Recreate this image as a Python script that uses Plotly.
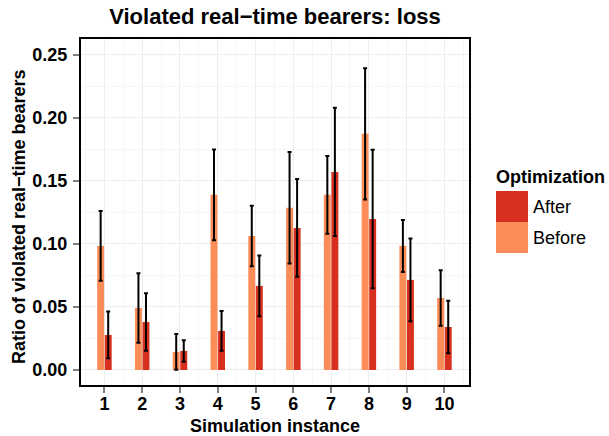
import plotly.graph_objects as go

instances = [1, 2, 3, 4, 5, 6, 7, 8, 9, 10]
tick_labels = ["1", "2", "3", "4", "5", "6", "7", "8", "9", "10"]
before_vals = [0.0984, 0.0492, 0.0143, 0.1389, 0.1063, 0.1286, 0.1389, 0.1873, 0.0984, 0.0571]
before_err = [0.0276, 0.0275, 0.0142, 0.0360, 0.0240, 0.0442, 0.0309, 0.0521, 0.0206, 0.0220]
after_vals = [0.0278, 0.0381, 0.0151, 0.0310, 0.0667, 0.1127, 0.1571, 0.1198, 0.0714, 0.0341]
after_err = [0.0185, 0.0228, 0.0085, 0.0157, 0.0241, 0.0387, 0.0508, 0.0549, 0.0328, 0.0208]
y_ticks = [0, 0.05, 0.1, 0.15, 0.2, 0.25]
y_tick_labels = ["0.00", "0.05", "0.10", "0.15", "0.20", "0.25"]

c_before = "#FC8D59"
c_after = "#D7301F"
font = "Liberation Sans, Arial, sans-serif"

fig = go.Figure()
fig.add_trace(go.Bar(
    x=instances, y=before_vals, name="Before", marker=dict(color=c_before, line=dict(width=0)),
    error_y=dict(type="data", array=before_err, color="black", thickness=2, width=2),
    showlegend=False,
))
fig.add_trace(go.Bar(
    x=instances, y=after_vals, name="After", marker=dict(color=c_after, line=dict(width=0)),
    error_y=dict(type="data", array=after_err, color="black", thickness=2, width=2),
    showlegend=False,
))

W, H = 609, 436
L, R, T, B = 81, 140, 39, 51
pw = W - L - R
ph = H - T - B

def px_x(p):
    return (p - L) / pw

def px_y(p):
    return 1 - (p - T) / ph

# legend (manual, ggplot style)
fig.add_annotation(x=px_x(494), y=px_y(177), xref="paper", yref="paper", text="<b>Optimization</b>",
                   showarrow=False, xanchor="left", yanchor="middle",
                   font=dict(family=font, size=18, color="black"))
for i, (lab, col) in enumerate([("After", c_after), ("Before", c_before)]):
    y0 = 191 + i * 31
    fig.add_shape(type="rect", xref="paper", yref="paper",
                  x0=px_x(496), x1=px_x(528), y0=px_y(y0), y1=px_y(y0 + 31),
                  fillcolor=col, line=dict(width=0))
    fig.add_annotation(x=px_x(531), y=px_y(y0 + 16), xref="paper", yref="paper", text=lab,
                       showarrow=False, xanchor="left", yanchor="middle",
                       font=dict(family=font, size=18, color="black"))

# axis titles
fig.add_annotation(x=px_x(L + pw / 2), y=px_y(426), xref="paper", yref="paper",
                   text="<b>Simulation instance</b>", showarrow=False, xanchor="center", yanchor="middle",
                   font=dict(family=font, size=18, color="black"))
fig.add_annotation(x=px_x(19), y=px_y(T + ph / 2 + 5), xref="paper", yref="paper",
                   text="<b>Ratio of violated real\u2212time bearers</b>", showarrow=False, textangle=-90,
                   xanchor="center", yanchor="middle",
                   font=dict(family=font, size=18, color="black"))

fig.update_layout(
    width=W, height=H,
    margin=dict(l=L, r=R, t=T, b=B),
    paper_bgcolor="white", plot_bgcolor="white",
    barmode="group", bargap=0.6, bargroupgap=0.08,
    title=dict(text="<b>Violated real\u2212time bearers: loss</b>", x=(L + pw / 2) / W, xanchor="center",
               y=1 - 16 / H, yanchor="middle", font=dict(family=font, size=22, color="black")),
    font=dict(family=font, color="black"),
)
fig.update_xaxes(
    range=[0.38, 10.65], tickmode="array", tickvals=instances, ticktext=["<b>%s</b>" % t for t in tick_labels],
    tickfont=dict(family=font, size=18, color="black"),
    ticks="outside", ticklen=6, tickwidth=2, tickcolor="#7F7F7F", ticklabelstandoff=-5,
    showline=True, linecolor="black", linewidth=2, mirror=True,
    showgrid=True, gridcolor="#EEEEEE", gridwidth=1,
    minor=dict(dtick=1, tick0=0.5, showgrid=True, gridcolor="#F6F6F6", gridwidth=1, ticks=""),
    zeroline=False, automargin=False,
)
fig.update_yaxes(
    range=[-0.0119, 0.2625], tickmode="array", tickvals=y_ticks,
    ticktext=["<b>%s</b>" % t for t in y_tick_labels],
    tickfont=dict(family=font, size=18, color="black"),
    ticks="outside", ticklen=6, tickwidth=2, tickcolor="#7F7F7F", ticklabelstandoff=2,
    showline=True, linecolor="black", linewidth=2, mirror=True,
    showgrid=True, gridcolor="#EEEEEE", gridwidth=1,
    minor=dict(dtick=0.025, tick0=0.025, showgrid=True, gridcolor="#F6F6F6", gridwidth=1, ticks=""),
    zeroline=False, automargin=False,
)

fig.write_html("out.html")
